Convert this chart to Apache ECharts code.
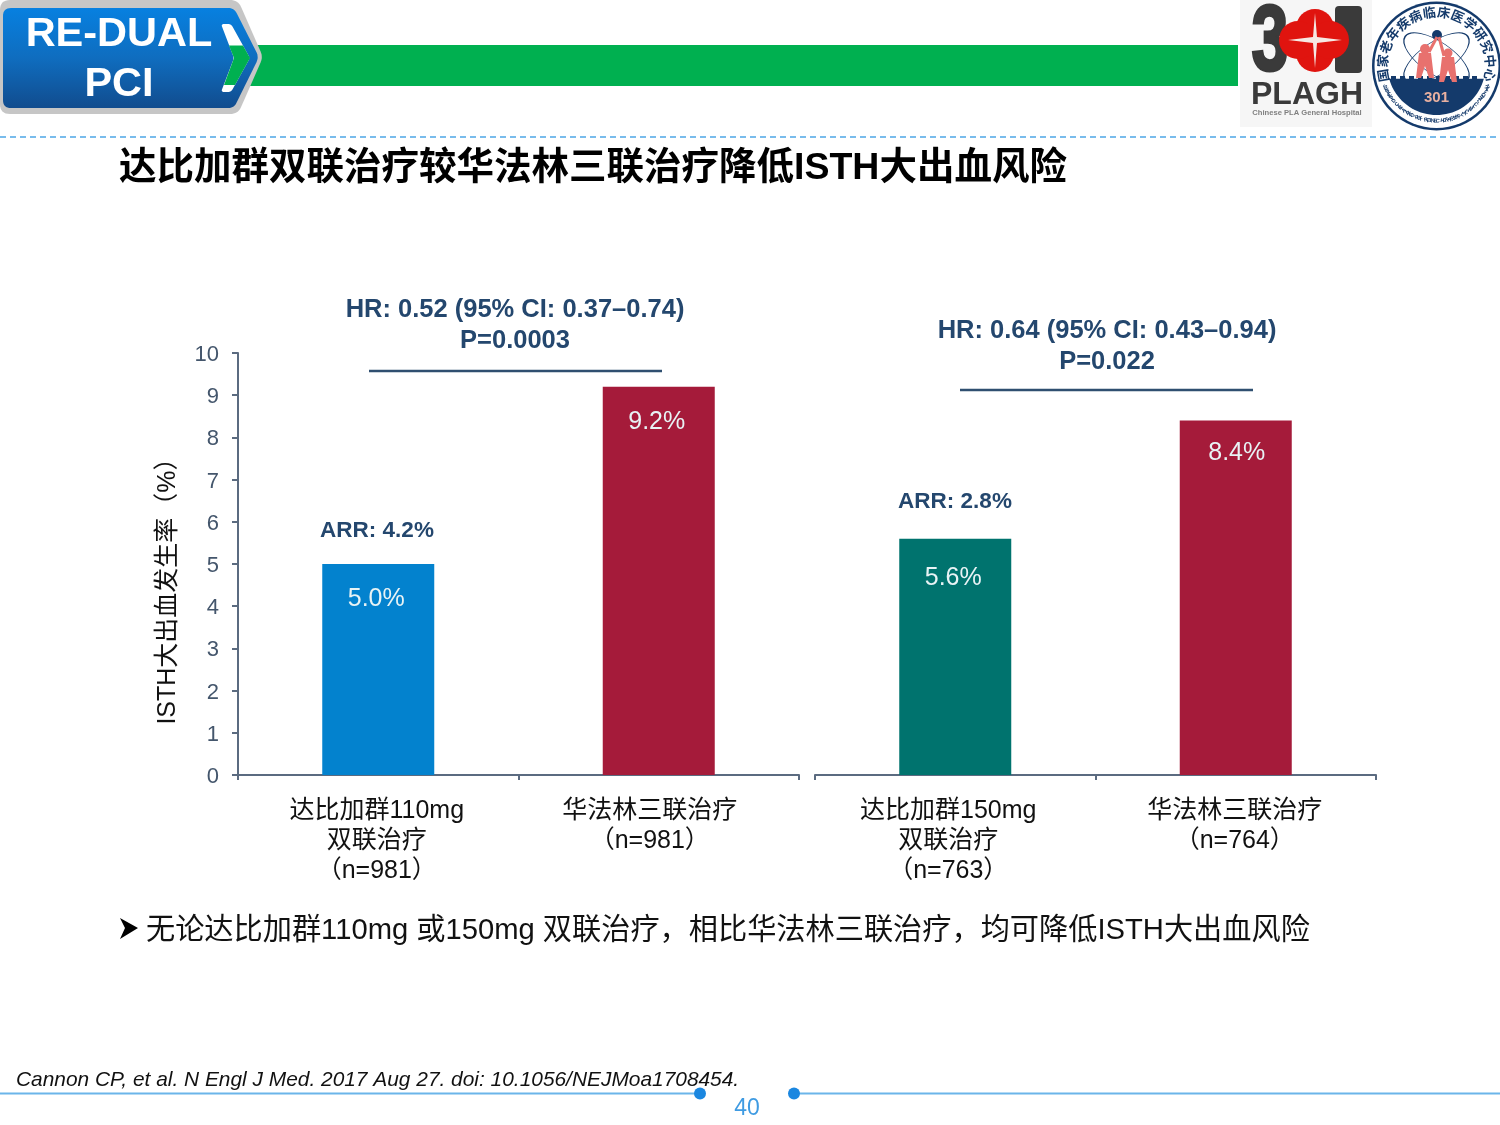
<!DOCTYPE html>
<html><head><meta charset="utf-8">
<style>html,body{margin:0;padding:0;background:#fff}#c{width:1500px;height:1125px}</style>
<script src="https://cdn.jsdelivr.net/npm/echarts@6/dist/echarts.min.js"></script>
</head><body><div id="c"></div>
<script>
const F = '"Liberation Sans","Noto Sans CJK SC",sans-serif';
const leftCategories = ['达比加群110mg\n双联治疗\n（n=981）', '华法林三联治疗\n（n=981）'];
const rightCategories = ['达比加群150mg\n双联治疗\n（n=763）', '华法林三联治疗\n（n=764）'];
const leftValues = [5.0, 9.2];
const rightValues = [5.6, 8.4];
const leftColors = ['#0382ce', '#a51b3a'];
const rightColors = ['#00736e', '#a51b3a'];
const yTicks = [0,1,2,3,4,5,6,7,8,9,10];
const hrLeft = ['HR: 0.52 (95% CI: 0.37–0.74)', 'P=0.0003'];
const hrRight = ['HR: 0.64 (95% CI: 0.43–0.94)', 'P=0.022'];
const arrLabels = ['ARR: 4.2%', 'ARR: 2.8%'];
const navy = '#24476e', axisC = '#5b6b80', tickC = '#44566c';

function rounded(pts, r){
  const out=[];const n=pts.length;
  for(let i=0;i<n;i++){
    const p=pts[i],a=pts[(i+n-1)%n],b=pts[(i+1)%n];
    const rr=Array.isArray(r)?r[i]:r;
    const la=Math.hypot(a[0]-p[0],a[1]-p[1]),lb=Math.hypot(b[0]-p[0],b[1]-p[1]);
    const s=[p[0]+(a[0]-p[0])*rr/la,p[1]+(a[1]-p[1])*rr/la],e=[p[0]+(b[0]-p[0])*rr/lb,p[1]+(b[1]-p[1])*rr/lb];
    for(let t=0;t<=8;t++){const u=t/8;out.push([(1-u)*(1-u)*s[0]+2*u*(1-u)*p[0]+u*u*e[0],(1-u)*(1-u)*s[1]+2*u*(1-u)*p[1]+u*u*e[1]]);}
  }
  return out;
}
const poly=(points,fill,z=5)=>({type:'polygon',silent:true,z,shape:{points},style:{fill}});
const txt=(text,x,y,font,fill,align='left',z=10,extra={})=>Object.assign({type:'text',silent:true,z,style:{text,x,y,font,fill,textAlign:align,textVerticalAlign:'middle'}},extra);
const line=(x1,y1,x2,y2,stroke,lineWidth,dash,z=4)=>({type:'line',silent:true,z,shape:{x1,y1,x2,y2},style:{stroke,lineWidth,lineDash:dash||null}});
const circ=(cx,cy,r,fill,z=6,extra={})=>({type:'circle',silent:true,z,shape:{cx,cy,r},style:Object.assign({fill},extra)});

const g=[];
// header
g.push({type:'rect',silent:true,z:2,shape:{x:250,y:45,width:988,height:41},style:{fill:'#00b050'}});
g.push(poly(rounded([[0,0],[238,0],[263,57],[238,114],[0,114]],[10,8,6,8,10]),'#c6c6c6',3));
g.push({type:'polygon',silent:true,z:4,shape:{points:rounded([[3,8],[234,8],[259,57],[234,108],[3,108]],[8,6,6,6,8])},
  style:{fill:{type:'linear',x:0,y:0,x2:0,y2:1,colorStops:[{offset:0,color:'#0780e0'},{offset:.5,color:'#0f6dbf'},{offset:1,color:'#114c8e'}]}}});
g.push(poly(rounded([[221,24],[231,24],[250,58],[231,92],[221,92],[234,58]],3),'#ffffff',5));
g.push(poly([[229,45.5],[243,45.5],[250,58],[235,85],[224,85],[234,58]],'#00b050',6));
g.push(txt('RE-DUAL',119,35,'bold 41.5px '+F,'#fff','center'));
g.push(txt('PCI',119,85,'bold 41.5px '+F,'#fff','center'));
g.push(line(0,137,1500,137,'#4ea6e6',1.5,[6,4],2));
// title
g.push(txt('达比加群双联治疗较华法林三联治疗降低ISTH大出血风险',119,169,'bold 37.5px '+F,'#000'));
// logo 301
g.push({type:'rect',silent:true,z:2,shape:{x:1240,y:0,width:132,height:127},style:{fill:'#f6f6f6'}});
const three=txt('3',0,0,'bold 92px '+F,'#3a3a3a','center',6,{x:1270,y:45,scaleX:.72});
three.style.stroke='#3a3a3a';three.style.lineWidth=3;
g.push(three);
g.push({type:'rect',silent:true,z:6,shape:{x:1335,y:6,width:27,height:67,r:4},style:{fill:'#3a3a3a'}});
[[1315,28],[1315,53],[1298,40],[1330,40]].forEach(c=>g.push(circ(c[0],c[1],19,'#e0140f',7)));
g.push(poly([[1315,13],[1317,37],[1342,40],[1317,43],[1315,68],[1313,43],[1288,40],[1313,37]],'#f6e8e4',8));
g.push(txt('PLAGH',1307,95,'bold 32px '+F,'#3a3a3a','center',6));
g.push(txt('Chinese PLA General Hospital',1307,113,'bold 7.6px '+F,'#808080','center',6));
// circular logo
const cx=1436.5,cy=66;
g.push(circ(cx,cy,64.5,'#143a6b',3));
g.push(circ(cx,cy,62,'#fff',4));
const rim=[];{const a0=15,a1=165;for(let i=0;i<=40;i++){const a=(a0+(a1-a0)*i/40)*Math.PI/180;rim.push([cx+49*Math.cos(a),cy+49*Math.sin(a)]);}}
g.push(poly(rim,'#143a6b',6));
for(let x=1391;x<1481;x+=9)g.push(poly([[x,76],[x+5,76],[x+5,84],[x,84]],'#143a6b',6));
'国家老年疾病临床医学研究中心'.split('').forEach((ch,i,arr)=>{
  const a=(-100+200*i/(arr.length-1))*Math.PI/180;
  g.push(txt(ch,0,0,'bold 13px "Noto Sans CJK SC"','#143a6b','center',8,{x:cx+54*Math.sin(a),y:cy-54*Math.cos(a),rotation:-a}));
});
'NATIONAL CLINICAL RESEARCH CENTER FOR GERIATRIC DISEASES'.split('').forEach((ch,i,arr)=>{
  const a=(-68+136*i/(arr.length-1))*Math.PI/180;
  g.push(txt(ch,0,0,'bold 5.5px '+F,'#143a6b','center',8,{x:cx-55*Math.sin(a)*1,y:cy+55*Math.cos(a),rotation:a}));
});
[.6,-.6].forEach(rot=>g.push({type:'circle',silent:true,z:5,x:cx,y:58,rotation:rot,scaleX:1,scaleY:.42,shape:{cx:0,cy:0,r:38},style:{fill:'none',stroke:'#143a6b',lineWidth:1.5}}));
g.push(circ(1437,35,5,'#143a6b',8));
[[1425,56,1],[1448,60,.9]].forEach(f=>{
  g.push(circ(f[0],f[1]-7,5*f[2],'#e8716e',8));
  g.push(poly([[f[0]-6,f[1]-3],[f[0]+6,f[1]-3],[f[0]+9,f[1]+22],[f[0]+4,f[1]+22],[f[0],f[1]+10],[f[0]-4,f[1]+22],[f[0]-9,f[1]+22]],'#e8716e',8));
});
g.push(line(1429,52,1437,37,'#e8716e',3,null,8));g.push(line(1444,56,1439,37,'#e8716e',3,null,8));
g.push(txt('301',cx,98,'bold 15px '+F,'#e8b0a0','center',8));
// stats annotations
g.push(txt(hrLeft[0],515,310,'bold 25.5px '+F,navy,'center'));
g.push(txt(hrLeft[1],515,341,'bold 25.5px '+F,navy,'center'));
g.push(line(369,371,662,371,'#2f4f70',2.5));
g.push(txt(hrRight[0],1107,331,'bold 25.5px '+F,navy,'center'));
g.push(txt(hrRight[1],1107,362,'bold 25.5px '+F,navy,'center'));
g.push(line(960,390,1253,390,'#2f4f70',2.5));
g.push(txt(arrLabels[0],377,531,'bold 22.5px '+F,navy,'center'));
g.push(txt(arrLabels[1],955,502,'bold 22.5px '+F,navy,'center'));
// bullet + footnote
g.push(poly([[120,918],[138,928],[120,939],[125,928]],'#000',10));
g.push(txt('无论达比加群110mg 或150mg 双联治疗，相比华法林三联治疗，均可降低ISTH大出血风险',146,931,'29.2px '+F,'#111'));
g.push(txt('Cannon CP, et al. N Engl J Med. 2017 Aug 27. doi: 10.1056/NEJMoa1708454.',16,1080,'italic 20.9px '+F,'#111'));
g.push(line(0,1093.5,700,1093.5,'#6bb5ea',2,null,3));
g.push(line(794,1093.5,1500,1093.5,'#6bb5ea',2,null,3));
g.push(circ(700,1093.5,6,'#1b87e0',4));
g.push(circ(794,1093.5,6,'#1b87e0',4));
g.push(txt('40',747,1109,'23px '+F,'#3f9be2','center'));

const catAxis=(grid,cats,pads)=>({type:'category',gridIndex:grid,data:cats,
  axisLine:{lineStyle:{color:axisC,width:2}},axisTick:{show:true,length:5,lineStyle:{color:axisC,width:2}},
  axisLabel:{interval:0,color:'#111',fontFamily:F,fontSize:25,lineHeight:30,margin:21,
    formatter:(v,i)=>v.split('\n').map(s=>'{p'+i+'|'+s+'}').join('\n'),
    rich:Object.fromEntries(pads.map((p,i)=>['p'+i,{color:'#111',fontFamily:F,fontSize:25,lineHeight:30,padding:[0,p,0,0]}]))}});
const barSeries=(i,vals,cols,offs)=>({type:'bar',xAxisIndex:i,yAxisIndex:i,barWidth:112,
  data:vals.map((v,k)=>({value:v,itemStyle:{color:cols[k]},label:{offset:offs[k]}})),
  label:{show:true,position:'insideTop',distance:20,color:'#e8f3f5',fontFamily:F,fontSize:25,formatter:p=>p.value.toFixed(1)+'%'}});

const chart=echarts.init(document.getElementById('c'),null,{renderer:'canvas',width:1500,height:1125});
chart.setOption({
  backgroundColor:'#fff',animation:false,
  grid:[{left:238,top:353,width:561,height:422},{left:815,top:353,width:561,height:422}],
  xAxis:[catAxis(0,leftCategories,[3,18]),catAxis(1,rightCategories,[14,2])],
  yAxis:[
    {type:'value',gridIndex:0,min:0,max:10,interval:1,name:'ISTH大出血发生率（%）',nameLocation:'middle',nameGap:57,
     nameTextStyle:{color:'#111',fontFamily:F,fontSize:25,padding:[0,42,0,0]},
     axisLine:{show:true,lineStyle:{color:axisC,width:2}},axisTick:{show:true,length:6,lineStyle:{color:axisC,width:2}},
     splitLine:{show:false},axisLabel:{margin:19,formatter:v=>yTicks.includes(v)?'{t|'+v+'}':'',
       rich:{t:{color:tickC,fontFamily:F,fontSize:22,padding:[4,0,0,0]}}}},
    {type:'value',gridIndex:1,min:0,max:10,interval:1,show:false,splitLine:{show:false}}
  ],
  series:[barSeries(0,leftValues,leftColors,[[-2,3],[-2,3]]),barSeries(1,rightValues,rightColors,[[-2,7],[1,0]])],
  graphic:{elements:g}
});
</script></body></html>
